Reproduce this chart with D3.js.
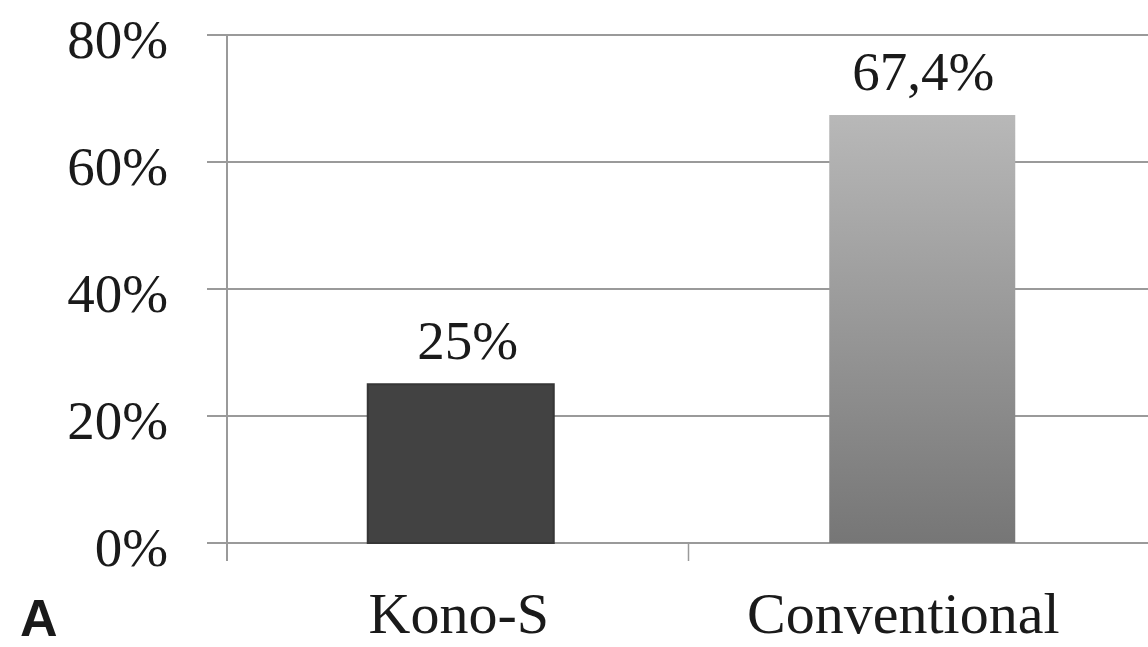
<!DOCTYPE html>
<html>
<head>
<meta charset="utf-8">
<script src="https://cdn.jsdelivr.net/npm/d3@7"></script>
<style>
  body { margin: 0; background: #fff; overflow: hidden; }
  svg { display: block; }
  svg text { font-family: "Liberation Serif", "DejaVu Serif", serif; fill: #1a1a1a; }
</style>
</head>
<body>
<div id="chart"></div>
<script>
const categories = ["Kono-S", "Conventional"];
const values = [25, 67.4];
const valueLabels = ["25%", "67,4%"];
const yTicks = [0, 20, 40, 60, 80];

const width = 1148, height = 647;
const margin = {left: 227, right: -2, top: 35, bottom: 104};

const svg = d3.select('#chart').append('svg')
    .attr('width', width)
    .attr('height', height);

const defs = svg.append('defs');
const grad = defs.append('linearGradient')
    .attr('id', 'barGrad')
    .attr('x1', 0).attr('y1', 0).attr('x2', 0).attr('y2', 1);
grad.append('stop').attr('offset', '0%').attr('stop-color', '#b8b8b8');
grad.append('stop').attr('offset', '100%').attr('stop-color', '#767676');

const x = d3.scaleBand()
    .domain(categories)
    .range([margin.left, width - margin.right])
    .paddingInner(0)
    .paddingOuter(0);

const y = d3.scaleLinear()
    .domain([0, 80])
    .range([height - margin.bottom, margin.top]);

// gridlines
svg.append('g').selectAll('line')
    .data(yTicks)
    .enter().append('line')
    .attr('x1', margin.left - 20)
    .attr('x2', width)
    .attr('y1', d => y(d))
    .attr('y2', d => y(d))
    .attr('stroke', '#9a9a9a')
    .attr('stroke-width', 2);

// y axis line
svg.append('line')
    .attr('x1', margin.left).attr('x2', margin.left)
    .attr('y1', y(80)).attr('y2', y(0) + 18)
    .attr('stroke', '#9a9a9a')
    .attr('stroke-width', 2);

// category separator ticks
svg.append('g').selectAll('line')
    .data(categories.slice(1))
    .enter().append('line')
    .attr('x1', d => x(d)).attr('x2', d => x(d))
    .attr('y1', y(0)).attr('y2', y(0) + 18)
    .attr('stroke', '#9a9a9a')
    .attr('stroke-width', 1.5);

// y tick labels
svg.append('g').selectAll('text')
    .data(yTicks)
    .enter().append('text')
    .attr('x', 168)
    .attr('y', d => y(d) + 23)
    .attr('text-anchor', 'end')
    .attr('font-size', 55)
    .text(d => d + '%');

// bars
const barW = 186;
const barX = (d, i) => x(categories[i]) + x.bandwidth() / 2 - barW / 2 + 3;
svg.append('g').selectAll('rect')
    .data(values)
    .enter().append('rect')
    .attr('x', barX)
    .attr('y', d => y(d))
    .attr('width', barW)
    .attr('height', d => y(0) - y(d))
    .attr('fill', (d, i) => i === 0 ? '#424242' : 'url(#barGrad)')
    .attr('stroke', (d, i) => i === 0 ? '#363636' : 'none')
    .attr('stroke-width', 2);

// value labels
svg.append('g').selectAll('text')
    .data(values)
    .enter().append('text')
    .attr('x', (d, i) => barX(d, i) + barW / 2 + (i === 0 ? 7 : 1))
    .attr('y', d => y(d) - 25)
    .attr('text-anchor', 'middle')
    .attr('font-size', 55)
    .text((d, i) => valueLabels[i]);

// category labels
svg.append('g').selectAll('text')
    .data(categories)
    .enter().append('text')
    .attr('x', (d, i) => x(d) + x.bandwidth() / 2 + (i === 0 ? 1 : -16))
    .attr('y', 633)
    .attr('text-anchor', 'middle')
    .attr('font-size', 58)
    .text(d => d);

// panel letter
svg.append('text')
    .attr('x', 20)
    .attr('y', 636)
    .style('font-family', '"Liberation Sans", Arial, sans-serif')
    .attr('font-weight', 'bold')
    .attr('font-size', 52)
    .text('A');
</script>
</body>
</html>
